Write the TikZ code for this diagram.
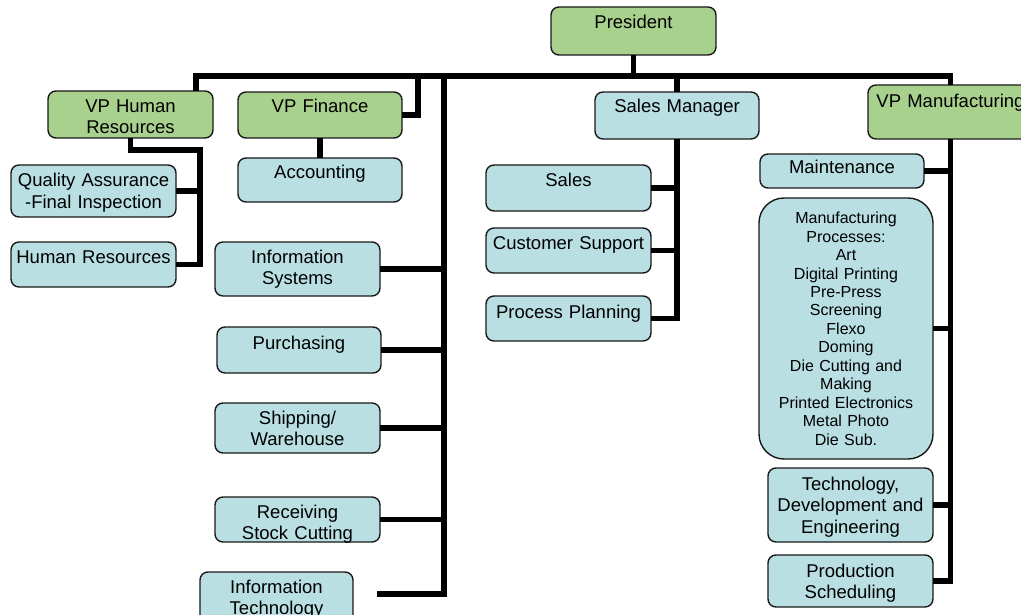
\documentclass[tikz,border=0pt]{standalone}
\usepackage{fontspec}
\setmainfont{Liberation Sans}
\definecolor{mgrgreen}{RGB}{169,209,142}
\definecolor{unitblue}{RGB}{185,223,227}
\definecolor{edgeline}{RGB}{25,25,25}
\tikzset{
  orgbox/.style={draw=edgeline, line width=1.4pt, rounded corners=8pt, inner sep=0pt, outer sep=0pt},
  mgr/.style={orgbox, fill=mgrgreen},
  unit/.style={orgbox, fill=unitblue},
  lbl/.style={anchor=base, align=center, inner sep=0pt, text width=200pt,
              font=\fontsize{18.5}{21.5}\selectfont},
  smalllbl/.style={lbl, font=\fontsize{16}{18.5}\selectfont},
  link/.style={line width=5.5pt, line join=miter, draw=black},
}
% box: style, name, x1, y1, x2, y2 (pixel grid, y downwards)
\newcommand{\orgbox}[6]{%
  \pgfmathsetmacro{\bw}{#5-#3}\pgfmathsetmacro{\bh}{#6-#4}%
  \node[#1, minimum width=\bw pt, minimum height=\bh pt] (#2) at ({(#3+#5)/2},{(#4+#6)/2}) {};%
}
\begin{document}
\begin{tikzpicture}[x=1pt, y=-1pt]
\useasboundingbox (0,0) rectangle (1021,615);
\clip (0,0) rectangle (1021,615);

% ---- executives ----
\orgbox{mgr}{pres}{551}{7}{716}{55}
\node[lbl] (pres-t) at (633.5,29) {President};

\orgbox{mgr}{vphr}{48}{91}{213}{138}
\node[lbl] (vphr-t) at (130.5,113) {VP Human\\[-1pt]Resources};

\orgbox{mgr}{vpfin}{238}{92}{402}{138}
\node[lbl] (vpfin-t) at (320,113) {VP Finance};

\orgbox{unit}{salesmgr}{595}{92}{759}{139}
\node[lbl] (salesmgr-t) at (677,113) {Sales Manager};

\orgbox{mgr}{vpmfg}{868}{85}{1033}{139}
\node[lbl] (vpmfg-t) at (950.5,108) {VP Manufacturing};

% ---- human resources ----
\orgbox{unit}{qa}{11}{165}{176}{217}
\node[lbl] (qa-t) at (93.5,187) {Quality Assurance\\-Final Inspection};

\orgbox{unit}{hr}{11}{242}{176}{287}
\node[lbl] (hr-t) at (93.5,263) {Human Resources};

% ---- finance ----
\orgbox{unit}{acct}{238}{158}{402}{202}
\node[lbl] (acct-t) at (320,179) {Accounting};

\orgbox{unit}{is}{215}{242}{380}{296}
\node[lbl] (is-t) at (297.5,263) {Information\\Systems};

\orgbox{unit}{purch}{217}{327}{381}{373}
\node[lbl] (purch-t) at (299,349) {Purchasing};

\orgbox{unit}{ship}{215}{403}{380}{453}
\node[lbl] (ship-t) at (297.5,424) {Shipping/\\Warehouse};

\orgbox{unit}{recv}{215}{497}{380}{542}
\begin{scope}
  \clip[rounded corners=8pt] (215,497) rectangle (380,542);
  \node[lbl] (recv-t) at (297.5,518) {Receiving\\Stock Cutting};
\end{scope}

\orgbox{unit}{it}{200}{572}{353}{630}
\node[lbl] (it-t) at (276.5,593) {Information\\Technology};

% ---- sales ----
\orgbox{unit}{sales}{486}{165}{651}{211}
\node[lbl] (sales-t) at (568.5,187) {Sales};

\orgbox{unit}{cs}{486}{228}{651}{273}
\node[lbl] (cs-t) at (568.5,250) {Customer Support};

\orgbox{unit}{pp}{486}{296}{651}{341}
\node[lbl] (pp-t) at (568.5,318) {Process Planning};

% ---- manufacturing ----
\orgbox{unit}{maint}{760}{154}{924}{188}
\node[lbl] (maint-t) at (842,174) {Maintenance};

\orgbox{unit, rounded corners=25pt}{mfgproc}{759}{198}{933}{459}
\node[smalllbl] (mfgproc-t) at (846,223.5) {Manufacturing\\Processes:\\Art\\Digital Printing\\Pre-Press\\Screening\\Flexo\\Doming\\Die Cutting and\\Making\\Printed Electronics\\Metal Photo\\Die Sub.};

\orgbox{unit}{tech}{768}{468}{933}{542}
\node[lbl] (tech-t) at (850.5,490) {Technology,\\Development and\\Engineering};

\orgbox{unit}{prod}{768}{555}{933}{607}
\node[lbl] (prod-t) at (850.5,577) {Production\\Scheduling};

% ---- reporting lines ----
\coordinate (barL) at (196,76);
\coordinate (barR) at (950.5,76);
\coordinate (finTap) at (418,76);
\coordinate (trunk) at (444,76);
\coordinate (itEnd) at (377,594);
\coordinate (hrBus) at (200,150);

\draw[link] (barL |- vphr.north) -- (barL) -- (barR) -- (vpmfg.north);
\draw[link] (pres.south) -- (pres.south |- barL);
\draw[link] (finTap) |- (vpfin.east);
\draw[link] (vpfin.south) -- (acct.north);
\draw[link] (salesmgr.north |- barL) -- (salesmgr.north);

% human resources branch
\draw[link] (vphr.south) |- (hrBus) |- (hr.east);
\draw[link] (qa.east) -- (qa.east -| hrBus);

% finance trunk
\draw[link] (trunk) |- (itEnd);
\foreach \b in {is, purch, ship, recv}
  \draw[link] (\b.east) -- (\b.east -| trunk);

% sales branch
\draw[link] (salesmgr.south) |- (pp.east);
\foreach \b in {sales, cs}
  \draw[link] (\b.east) -- (\b.east -| salesmgr.south);

% manufacturing branch
\draw[link] (vpmfg.south) |- (prod.east);
\foreach \b in {maint, mfgproc, tech}
  \draw[link] (\b.east) -- (\b.east -| vpmfg.south);
\end{tikzpicture}
\end{document}
